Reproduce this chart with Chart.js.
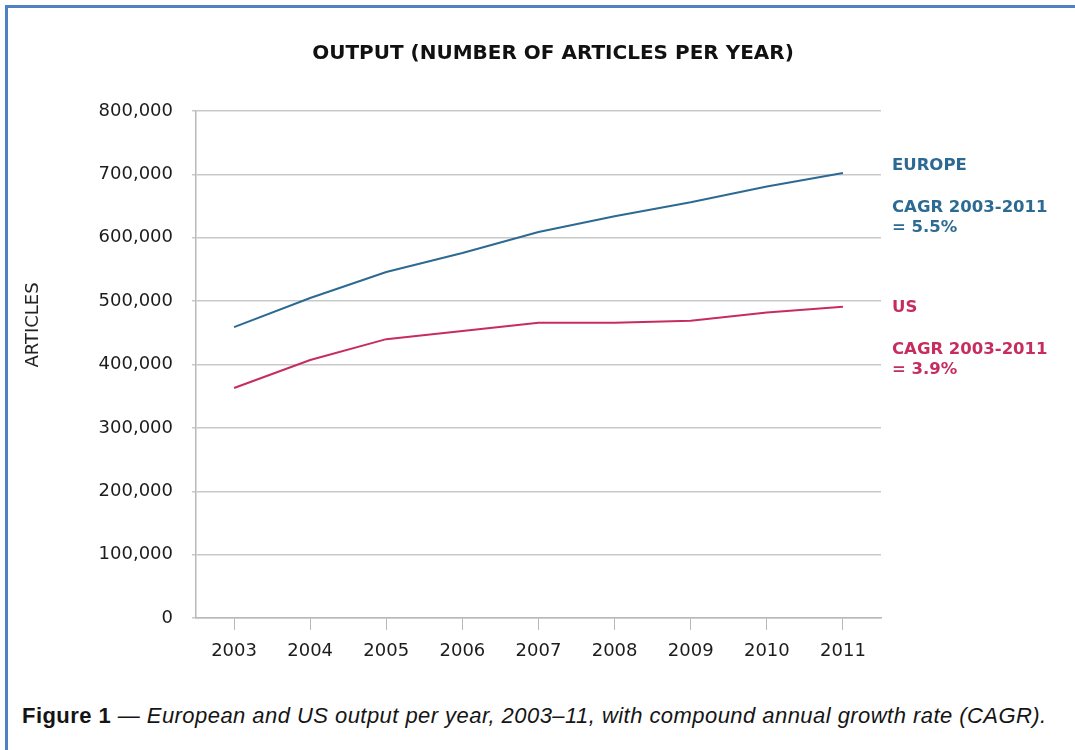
<!DOCTYPE html>
<html lang="en">
<head>
  <meta charset="UTF-8">
  <title>Output (number of articles per year)</title>
  <style>
    html, body { margin: 0; padding: 0; background: #fff; }
    .frame {
      position: absolute;
      left: 5px; top: 5px; right: 0; bottom: 0;
      border-left: 3px solid #4f80c4;
      border-top: 3px solid #4f80c4;
    }
    .chart-box {
      position: absolute;
      left: 0; top: 0;
      width: 1075px; height: 680px;
    }
    .caption {
      position: absolute;
      left: 22px; top: 703px;
      font-family: "Liberation Sans", Arial, sans-serif;
      font-size: 22px;
      letter-spacing: 0.45px;
      color: #151515;
      white-space: nowrap;
    }
    .caption b { font-weight: bold; }
    .caption i { font-style: italic; }
  </style>
</head>
<body>
  <div class="frame"></div>
  <div class="chart-box"><canvas id="output"></canvas></div>
  <div class="caption"><b>Figure 1</b> <i>— European and US output per year, 2003–11, with compound annual growth rate (CAGR).</i></div>

  <script src="https://cdn.jsdelivr.net/npm/chart.js"></script>
  <script>
    const years = ["2003", "2004", "2005", "2006", "2007", "2008", "2009", "2010", "2011"];
    const europe = [459000, 505000, 546000, 576000, 609000, 634000, 656000, 681000, 702000];
    const us = [363000, 407000, 440000, 453000, 466000, 466000, 469000, 482000, 491000];
    const seriesNames = ["EUROPE", "US"];
    const cagrNotes = [["CAGR 2003-2011", "= 5.5%"], ["CAGR 2003-2011", "= 3.9%"]];
    const chartTitle = "OUTPUT (NUMBER OF ARTICLES PER YEAR)";
    const yTitle = "ARTICLES";

    const blue = "#2c6a93";
    const red = "#c62d5e";
    const gridGrey = "#c9c9c9";
    const tickFont = { family: "DejaVu Sans", size: 18 };

    // title, axis name and the end-of-line notes
    const textLayer = {
      id: "textLayer",
      afterDraw(chart) {
        const ctx = chart.ctx;
        const area = chart.chartArea;
        const y = chart.scales.y;
        ctx.save();
        ctx.fillStyle = "#111";
        ctx.font = "bold 20px 'DejaVu Sans'";
        ctx.textAlign = "center";
        ctx.textBaseline = "middle";
        ctx.fillText(chartTitle, 553, 54);

        ctx.save();
        ctx.translate(33, 325);
        ctx.rotate(-Math.PI / 2);
        ctx.font = "18px 'DejaVu Sans'";
        ctx.fillStyle = "#222";
        ctx.fillText(yTitle, 0, 0);
        ctx.restore();

        ctx.textAlign = "left";
        ctx.font = "bold 16.5px 'DejaVu Sans'";
        chart.data.datasets.forEach((ds, i) => {
          const last = ds.data[ds.data.length - 1];
          const py = y.getPixelForValue(last) + (i === 0 ? -7 : 1);
          const x = area.right + 11;
          ctx.fillStyle = ds.borderColor;
          ctx.fillText(seriesNames[i], x, py);
          ctx.fillText(cagrNotes[i][0], x, py + 42);
          ctx.fillText(cagrNotes[i][1], x, py + 62);
        });
        ctx.restore();
      }
    };

    new Chart(document.getElementById("output"), {
      type: "line",
      data: {
        labels: years,
        datasets: [
          { label: "Europe", data: europe, borderColor: blue, borderWidth: 2, pointRadius: 0, tension: 0, fill: false },
          { label: "US", data: us, borderColor: red, borderWidth: 2, pointRadius: 0, tension: 0, fill: false }
        ]
      },
      options: {
        responsive: true,
        maintainAspectRatio: false,
        animation: false,
        layout: { padding: { top: 111, right: 194, bottom: 0, left: 0 } },
        plugins: {
          legend: { display: false },
          title: { display: false },
          tooltip: { enabled: false }
        },
        scales: {
          x: {
            offset: true,
            afterFit(scale) { scale.height = 62; },
            grid: { drawOnChartArea: false, drawTicks: true, tickLength: 12, color: "#b9b9b9" },
            border: { color: "#b9b9b9", width: 1.5 },
            ticks: { color: "#1c1c1c", font: tickFont, padding: 11, maxRotation: 0 }
          },
          y: {
            min: 0,
            max: 800000,
            afterFit(scale) { scale.width = 196; },
            grid: { color: gridGrey, lineWidth: 1.5, tickLength: 4 },
            border: { color: "#b9b9b9", width: 1.5 },
            ticks: {
              stepSize: 100000,
              color: "#1c1c1c",
              font: tickFont,
              padding: 19,
              callback: v => v.toLocaleString("en-US")
            }
          }
        }
      },
      plugins: [textLayer]
    });
  </script>
</body>
</html>
